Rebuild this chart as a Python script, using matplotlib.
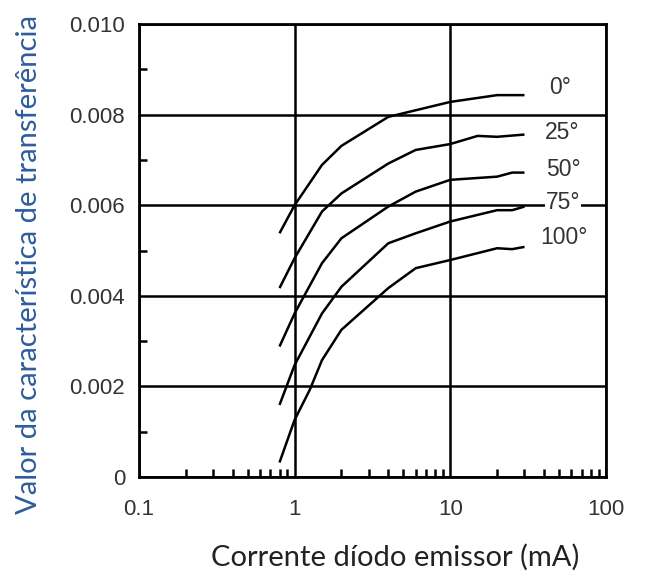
import matplotlib
matplotlib.use("Agg")
import matplotlib.pyplot as plt
from matplotlib.ticker import FixedLocator, NullFormatter

plt.rcParams['font.family'] = ['Liberation Sans', 'DejaVu Sans']

# emitter diode current (mA) and transfer characteristic per temperature
x_0 = [0.8, 1, 1.5, 2, 4, 10, 20, 30]
y_0 = [0.00538, 0.0060, 0.00689, 0.00731, 0.00795, 0.00828, 0.00843, 0.00843]

x_25 = [0.8, 1, 1.5, 2, 4, 6, 10, 15, 20, 30]
y_25 = [0.00417, 0.00483, 0.00586, 0.00626, 0.00692, 0.00722, 0.00735, 0.00753, 0.00751, 0.00756]

x_50 = [0.8, 1, 1.5, 2, 4, 6, 10, 20, 25, 30]
y_50 = [0.00288, 0.00361, 0.00472, 0.00527, 0.00597, 0.00630, 0.00656, 0.00663, 0.00672, 0.00672]

x_75 = [0.8, 1, 1.5, 2, 4, 6, 10, 20, 25, 30]
y_75 = [0.00159, 0.00247, 0.00361, 0.00420, 0.00516, 0.00538, 0.00564, 0.00589, 0.00589, 0.00597]

x_100 = [0.8, 1, 1.25, 1.5, 2, 4, 6, 10, 20, 25, 30]
y_100 = [0.00032, 0.00126, 0.00192, 0.00258, 0.00325, 0.00417, 0.00461, 0.00479, 0.00505, 0.00503, 0.00508]

series = [(x_0, y_0), (x_25, y_25), (x_50, y_50), (x_75, y_75), (x_100, y_100)]
labels = ["0°", "25°", "50°", "75°", "100°"]
label_x = [50.6, 52, 53, 53, 54]
label_y = [0.0086, 0.0076, 0.00678, 0.00605, 0.00528]

x_ticks = [0.1, 1, 10, 100]
x_ticklabels = ["0.1", "1", "10", "100"]
y_ticks = [0, 0.002, 0.004, 0.006, 0.008, 0.010]
y_ticklabels = ["0", "0.002", "0.004", "0.006", "0.008", "0.010"]

fig = plt.figure(figsize=(6.68, 5.80), dpi=100)
ax = fig.add_axes([0.208, 0.1776, 0.699, 0.781])

for (xs, ys) in series:
    ax.plot(xs, ys, color="black", lw=1.8, solid_capstyle="butt")

for lab, lx, ly in zip(labels, label_x, label_y):
    ax.text(lx, ly, lab, ha="center", va="center", fontsize=16.5,
            color="#333333",
            bbox=dict(facecolor="white", edgecolor="none", pad=0.5))

ax.set_xscale("log")
ax.set_xlim(0.1, 100)
ax.set_ylim(0, 0.010)

ax.set_xticks(x_ticks)
ax.set_xticklabels(x_ticklabels)
ax.set_yticks(y_ticks)
ax.set_yticklabels(y_ticklabels)
ax.yaxis.set_minor_locator(FixedLocator([0.001, 0.003, 0.005, 0.007, 0.009]))
ax.yaxis.set_minor_formatter(NullFormatter())
ax.xaxis.set_minor_formatter(NullFormatter())

ax.grid(True, which="major", color="black", lw=1.8)
ax.tick_params(which="both", direction="in", top=False, right=False,
               labelsize=16, labelcolor="#333333", width=1.8, color="black")
ax.tick_params(axis="y", which="major", length=0, pad=10)
ax.tick_params(axis="x", which="major", length=0, pad=16)
ax.tick_params(which="minor", length=6)
for s in ax.spines.values():
    s.set_linewidth(2)

fig.text(395 / 668, 1 - 557 / 580, "Corrente díodo emissor (mA)", fontsize=21,
         family="Lato", color="#222222", ha="center", va="center")
fig.text(29 / 668, 1 - 264 / 580, "Valor da característica de transferência",
         fontsize=21, family="Lato", color="#2e5d9a", rotation=90,
         ha="center", va="center")

fig.savefig("out.png", dpi=100)
